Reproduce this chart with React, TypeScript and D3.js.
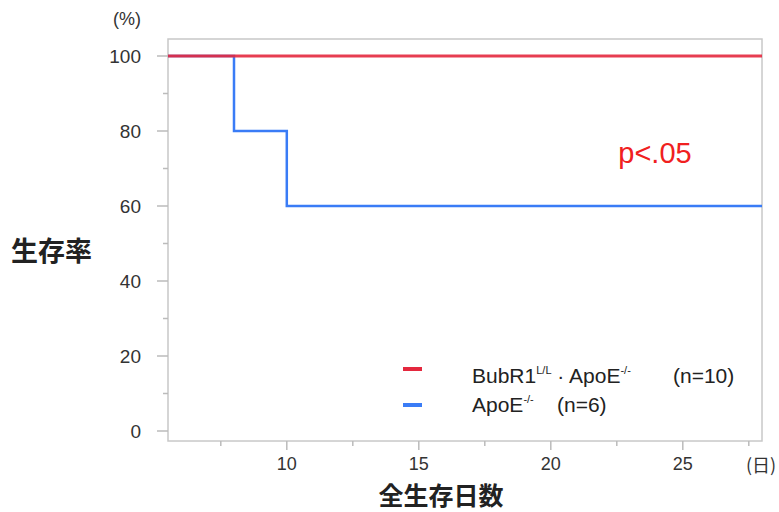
import React, { useEffect, useRef } from 'react';
import * as d3 from 'd3';

const bubDays = [5.5, 28];
const bubSurv = [100, 100];
const apoDays = [5.5, 8, 10, 28];
const apoSurv = [100, 80, 60, 60];
const xTicks = [10, 15, 20, 25];
const yTicks = [0, 20, 40, 60, 80, 100];

const App = () => {
  const ref = useRef<SVGSVGElement>(null);

  useEffect(() => {
    const svg = d3.select(ref.current);
    svg.selectAll('*').remove();
    const font = 'Arial, "Liberation Sans", sans-serif';
    const cjk = '"Noto Sans CJK JP", sans-serif';
    const left = 168, right = 762, top = 39, bottom = 441;

    const x = d3.scaleLinear().domain([5.5, 28]).range([left, right]);
    const y = d3.scaleLinear().domain([0, 100]).range([431, 56]);

    // frame
    svg.append('rect')
      .attr('x', left).attr('y', top)
      .attr('width', right - left).attr('height', bottom - top)
      .attr('fill', 'none').attr('stroke', '#c8c8c8').attr('stroke-width', 1.5);

    // y ticks
    const yMinor = d3.range(10, 100, 20);
    svg.selectAll('.ymin').data(yMinor).enter().append('line')
      .attr('x1', left - 5).attr('x2', left).attr('y1', (d) => y(d)).attr('y2', (d) => y(d))
      .attr('stroke', '#bbb').attr('stroke-width', 1.5);
    svg.selectAll('.ymaj').data(yTicks).enter().append('line')
      .attr('x1', left - 11).attr('x2', left).attr('y1', (d) => y(d)).attr('y2', (d) => y(d))
      .attr('stroke', '#bbb').attr('stroke-width', 1.5);
    svg.selectAll('.ylab').data(yTicks).enter().append('text')
      .attr('x', 141).attr('y', (d) => y(d) + 7)
      .attr('text-anchor', 'end').attr('font-family', font).attr('font-size', 19)
      .attr('fill', '#333').text((d) => d);

    // x ticks
    const xMinor = [7.5, 12.5, 17.5, 22.5, 27.5];
    svg.selectAll('.xmin').data(xMinor).enter().append('line')
      .attr('x1', (d) => x(d)).attr('x2', (d) => x(d)).attr('y1', bottom).attr('y2', bottom + 5)
      .attr('stroke', '#bbb').attr('stroke-width', 1.5);
    svg.selectAll('.xmaj').data(xTicks).enter().append('line')
      .attr('x1', (d) => x(d)).attr('x2', (d) => x(d)).attr('y1', bottom).attr('y2', bottom + 9)
      .attr('stroke', '#bbb').attr('stroke-width', 1.5);
    svg.selectAll('.xlab').data(xTicks).enter().append('text')
      .attr('x', (d) => x(d)).attr('y', 470)
      .attr('text-anchor', 'middle').attr('font-family', font).attr('font-size', 18)
      .attr('fill', '#333').text((d) => d);

    const line = d3.line<[number, number]>()
      .x((d) => x(d[0])).y((d) => y(d[1]))
      .curve(d3.curveStepAfter);

    svg.append('path')
      .attr('d', line(apoDays.map((d, i) => [d, apoSurv[i]] as [number, number])))
      .attr('fill', 'none').attr('stroke', '#3a7cf6').attr('stroke-width', 2.5);
    svg.append('path')
      .attr('d', line(bubDays.map((d, i) => [d, bubSurv[i]] as [number, number])))
      .attr('fill', 'none').attr('stroke', '#e4283e').attr('stroke-width', 3).attr('opacity', 0.9);

    // labels
    svg.append('text').attr('x', 127).attr('y', 25).attr('text-anchor', 'middle')
      .attr('font-family', font).attr('font-size', 18).attr('fill', '#333').text('(%)');
    svg.append('text').attr('x', 761).attr('y', 472).attr('text-anchor', 'middle')
      .attr('font-family', cjk).attr('font-size', 18).attr('fill', '#333').text('(日)');
    svg.append('text').attr('x', 11).attr('y', 261)
      .attr('font-family', cjk).attr('font-weight', 'bold')
      .attr('font-size', 27).attr('fill', '#222').text('生存率');
    svg.append('text').attr('x', 441).attr('y', 505).attr('text-anchor', 'middle')
      .attr('font-family', cjk).attr('font-weight', 'bold')
      .attr('font-size', 25).attr('fill', '#222').text('全生存日数');
    svg.append('text').attr('x', 655).attr('y', 163).attr('text-anchor', 'middle')
      .attr('font-family', font).attr('font-size', 29).attr('fill', '#f02020').text('p<.05');

    // legend
    svg.append('line').attr('x1', 403).attr('x2', 422).attr('y1', 369).attr('y2', 369)
      .attr('stroke', '#e4283e').attr('stroke-width', 4);
    svg.append('line').attr('x1', 403).attr('x2', 422).attr('y1', 405).attr('y2', 405)
      .attr('stroke', '#3a7cf6').attr('stroke-width', 4);

    const t1 = svg.append('text').attr('x', 472).attr('y', 383)
      .attr('font-family', font).attr('font-size', 21).attr('fill', '#222');
    t1.append('tspan').text('BubR1');
    t1.append('tspan').attr('font-size', 11).attr('dy', -9).text('L/L');
    t1.append('tspan').attr('dy', 9).text(' · ApoE');
    t1.append('tspan').attr('font-size', 11).attr('dy', -9).text('-/-');
    t1.append('tspan').attr('x', 673).attr('dy', 9).text('(n=10)');

    const t2 = svg.append('text').attr('x', 472).attr('y', 412)
      .attr('font-family', font).attr('font-size', 21).attr('fill', '#222');
    t2.append('tspan').text('ApoE');
    t2.append('tspan').attr('font-size', 11).attr('dy', -9).text('-/-');
    t2.append('tspan').attr('x', 557).attr('dy', 9).text('(n=6)');
  }, []);

  return (
    <svg ref={ref} width={779} height={512}
      style={{ position: 'absolute', left: 0, top: 0, background: '#fff' }} />
  );
};

export default App;
